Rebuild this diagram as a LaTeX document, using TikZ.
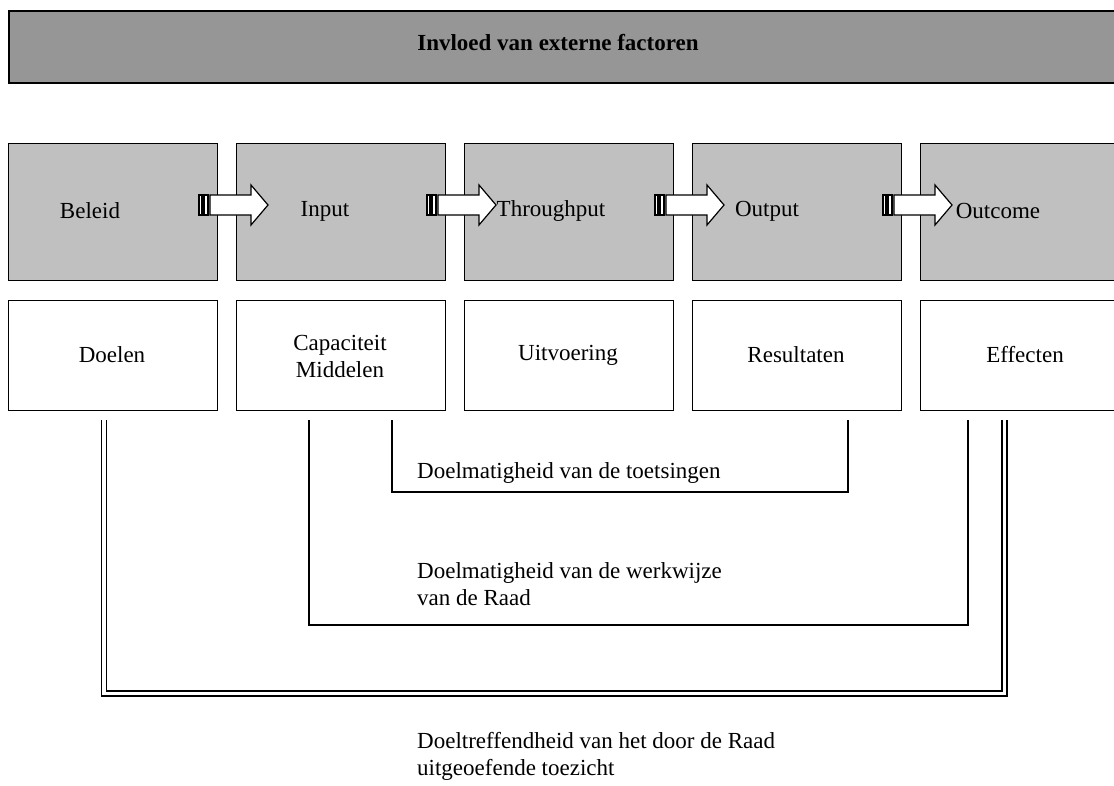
\documentclass[tikz,border=0pt]{standalone}
\usepackage{fontspec}
\setmainfont{Liberation Serif}
\begin{document}
\begin{tikzpicture}[x=1pt,y=-1pt,
  every node/.style={font=\fontsize{23}{27}\selectfont, inner sep=0pt},
  graybox/.style={draw=black, line width=1.4pt, fill=graybg, rectangle, anchor=north west},
  whitebox/.style={draw=black, line width=1.4pt, fill=white, rectangle, anchor=north west},
  txt/.style={align=center},
  ltxt/.style={align=left, anchor=west},
  bracket/.style={line width=1.2pt},
  dbl/.style={double=white, double distance=3.6pt, line width=1.4pt},
  arrowpart/.style={draw=black, fill=white, line width=1.2pt, line join=miter}
]
\definecolor{graybg}{RGB}{192,192,192}
\definecolor{titlebg}{RGB}{150,150,150}
\useasboundingbox (0,0) rectangle (1114,785);
\clip (0,0) rectangle (1114,785);

% title bar
\node[draw=black, line width=1.6pt, fill=titlebg, anchor=north west, minimum width=1120pt, minimum height=72pt] (title) at (8,10) {};
\node[font=\fontsize{23}{27}\selectfont\bfseries] (titletext) at (558,43) {Invloed van externe factoren};

% gray and white boxes
\foreach \i/\x in {1/8,2/236,3/464,4/692,5/920}{
  \node[graybox, minimum width=209pt, minimum height=137pt] (g\i) at (\x,143) {};
  \node[whitebox, minimum width=209pt, minimum height=110pt] (w\i) at (\x,300) {};
}
\node[txt] (tbeleid) at (90,211) {Beleid};
\node[txt] (tinput) at (325,211) {Input};
\node[txt] (tthrough) at (551,211) {Throughput};
\node[txt] (toutput) at (767,211) {Output};
\node[txt] (toutcome) at (998,211) {Outcome};

% striped arrows
\foreach \s in {199,427,655,883}{
  \draw[arrowpart] (\s,195) rectangle (\s+3,215);
  \draw[arrowpart] (\s+5,195) rectangle (\s+9,215);
  \draw[arrowpart] (\s+11,195) -- (\s+52,195) -- (\s+52,185) -- (\s+69,205) -- (\s+52,225) -- (\s+52,215) -- (\s+11,215) -- cycle;
}

% white box texts
\node[txt] (tdoelen) at (112,355) {Doelen};
\node[txt] (tcap) at (340,356) {Capaciteit\\Middelen};
\node[txt] (tuitv) at (568,355) {Uitvoering};
\node[txt] (tres) at (796,355) {Resultaten};
\node[txt] (teff) at (1025,355) {Effecten};

% brackets
\coordinate (a1) at (392,420);
\coordinate (a2) at (392,492);
\coordinate (a3) at (848,492);
\coordinate (a4) at (848,420);
\draw[bracket] (a1) -- (a2) -- (a3) -- (a4);
\node[ltxt] (ltoets) at (417,473) {Doelmatigheid van de toetsingen};

\coordinate (b1) at (309,420);
\coordinate (b2) at (309,625);
\coordinate (b3) at (968,625);
\coordinate (b4) at (968,420);
\draw[bracket] (b1) -- (b2) -- (b3) -- (b4);
\node[ltxt] (lwerk) at (417,584) {Doelmatigheid van de werkwijze\\van de Raad};

\coordinate (c1) at (104,420);
\coordinate (c2) at (104,693.5);
\coordinate (c3) at (1004.5,693.5);
\coordinate (c4) at (1004.5,420);
\draw[dbl] (c1) -- (c2) -- (c3) -- (c4);
\node[ltxt] (ldoel) at (417,756) {Doeltreffendheid van het door de Raad\\uitgeoefende toezicht};
\end{tikzpicture}
\end{document}
